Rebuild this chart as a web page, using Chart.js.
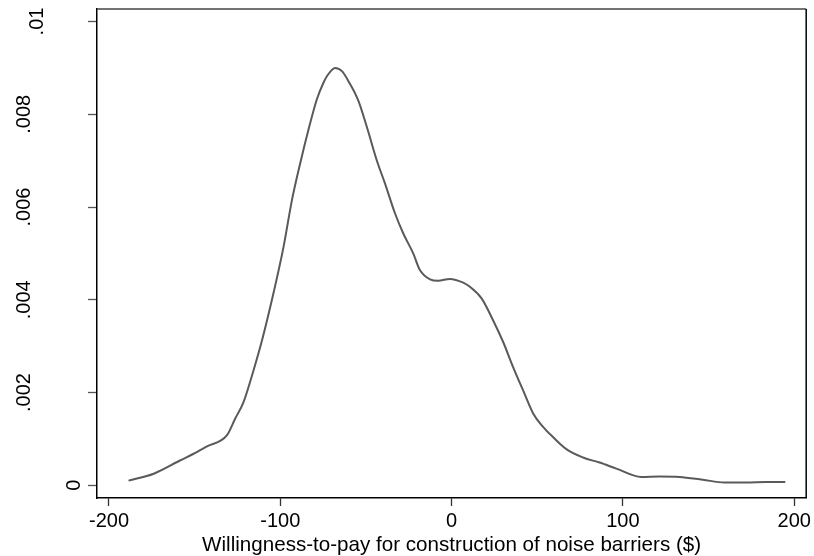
<!DOCTYPE html>
<html>
<head>
<meta charset="utf-8">
<script src="https://cdn.jsdelivr.net/npm/chart.js@4/dist/chart.umd.min.js"></script>
<style>
html,body{margin:0;padding:0;background:#fff;}
#wrap{width:814px;height:556px;}
</style>
</head>
<body>
<div id="wrap"><canvas id="c" width="814" height="556"></canvas></div>
<script>
// ---- data ----
const wtpValues = [-188.6,-173.9,-158.3,-150.6,-142.8,-131.1,-126.3,-121.4,-115.6,-110.7,-104,-98.1,-93.2,-88.4,-83.6,-78.7,-74.8,-72.8,-68,-64,-60.3,-54.4,-49.5,-43.7,-38.9,-33,-28.2,-22.4,-18.5,-12.6,-7.8,-1,6.8,10.7,17.5,24.2,30.1,35.9,41.7,47.6,53.4,59.2,67,76.7,86.4,96.2,110.7,121.4,133,146.6,159.3,171.9,183.6,194.8];
const densityValues = [0.0001,0.00025,0.00054,0.00068,0.00084,0.00108,0.00144,0.0018,0.00248,0.00312,0.00414,0.00514,0.00615,0.00694,0.00766,0.00832,0.00868,0.00882,0.009,0.00893,0.00872,0.00829,0.00773,0.00701,0.00651,0.00586,0.00543,0.005,0.00464,0.00444,0.00441,0.00445,0.00437,0.00428,0.00403,0.00356,0.00309,0.00255,0.00205,0.00155,0.00126,0.00104,0.00078,0.0006,0.00049,0.00036,0.00018,0.00019,0.00018,0.00012,0.00006,0.00006,0.00007,0.00007];
const xTicks = [-200,-100,0,100,200];
const xTickLabels = ['-200','-100','0','100','200'];
const yTicks = [0,0.002,0.004,0.006,0.008,0.01];
const yTickLabels = ['0','.002','.004','.006','.008','.01'];
const xTitle = 'Willingness-to-pay for construction of noise barriers ($)';

// ---- styling ----
const FONT = '"Liberation Sans", Arial, Helvetica, sans-serif';
const yLabelBaseline = {'0':80, '.01':43};
const yLabelBaselineDefault = 29.5;

const points = wtpValues.map((x,i)=>({x:x, y:densityValues[i]}));

const framePlugin = {
  id:'frame',
  afterDraw(chart){
    const ctx = chart.ctx, a = chart.chartArea, ys = chart.scales.y;
    ctx.save();
    ctx.lineWidth = 1.5;
    ctx.strokeStyle = '#444';
    ctx.beginPath(); ctx.moveTo(a.left, a.top); ctx.lineTo(a.right, a.top); ctx.stroke();
    ctx.strokeStyle = '#000';
    ctx.beginPath(); ctx.moveTo(a.right, a.top); ctx.lineTo(a.right, a.bottom); ctx.stroke();
    // rotated y tick labels
    ctx.fillStyle = '#000';
    ctx.font = '20px ' + FONT;
    ctx.textAlign = 'center';
    ctx.textBaseline = 'alphabetic';
    yTicks.forEach((v,i)=>{
      const lab = yTickLabels[i];
      const py = ys.getPixelForValue(v);
      const bx = (lab in yLabelBaseline) ? yLabelBaseline[lab] : yLabelBaselineDefault;
      ctx.save();
      ctx.translate(bx, py);
      ctx.rotate(-Math.PI/2);
      ctx.fillText(lab, 0, 0);
      ctx.restore();
    });
    ctx.restore();
  }
};

new Chart(document.getElementById('c'), {
  type:'scatter',
  data:{datasets:[{
    data: points,
    showLine:true,
    borderColor:'#5a5a5a',
    borderWidth:2,
    pointRadius:0,
    fill:false,
    cubicInterpolationMode:'monotone'
  }]},
  options:{
    responsive:false,
    animation:false,
    devicePixelRatio:1,
    layout:{padding:{top:9,right:7,left:0,bottom:0}},
    plugins:{legend:{display:false},tooltip:{enabled:false}},
    scales:{
      x:{
        type:'linear', min:-207, max:207,
        afterBuildTicks:(s)=>{ s.ticks = xTicks.map(v=>({value:v})); },
        grid:{display:true, drawOnChartArea:false, drawTicks:true, tickLength:8, tickColor:'#333', tickWidth:1.3},
        border:{display:true, color:'#000', width:1.5},
        ticks:{font:{family:FONT,size:20}, color:'#000', padding:3, maxRotation:0, minRotation:0, autoSkip:false,
               callback:(v,i)=>xTickLabels[i]},
        title:{display:true, text:xTitle, font:{family:FONT,size:20.6,lineHeight:1}, color:'#000', padding:{top:0,bottom:0}},
        afterFit:(s)=>{ s.height = 58; }
      },
      y:{
        type:'linear', min:-0.000274, max:0.01027,
        afterBuildTicks:(s)=>{ s.ticks = yTicks.map(v=>({value:v})); },
        grid:{display:true, drawOnChartArea:false, drawTicks:true, tickLength:9, tickColor:'#555', tickWidth:1.3},
        border:{display:true, color:'#000', width:1.5},
        ticks:{display:false},
        afterFit:(s)=>{ s.width = 97; }
      }
    }
  },
  plugins:[framePlugin]
});
</script>
</body>
</html>
